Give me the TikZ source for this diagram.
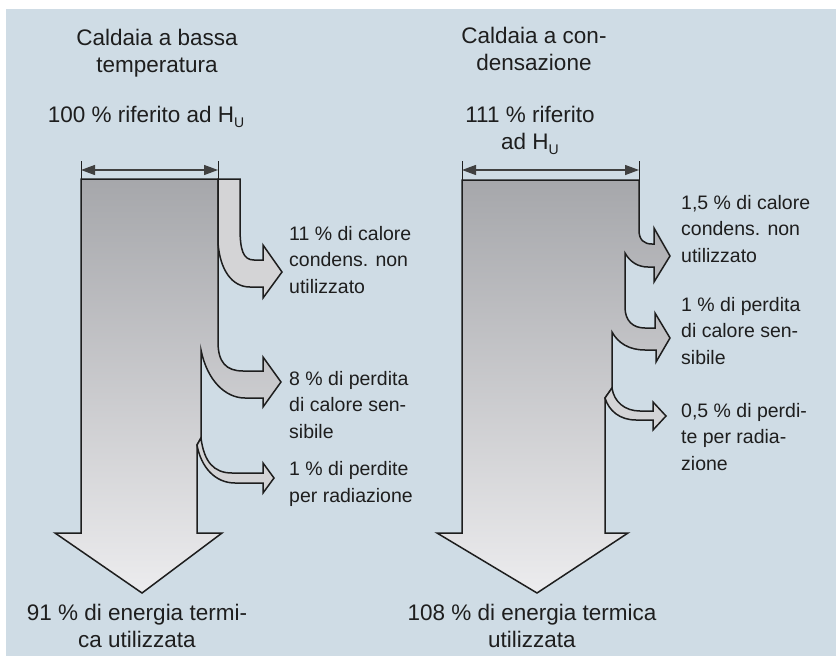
\documentclass[tikz,border=0pt]{standalone}
\usepackage{fontspec}
\setmainfont{Liberation Sans}
\usetikzlibrary{arrows.meta}
\definecolor{bgblue}{RGB}{207,220,229}
\definecolor{bartop}{RGB}{166,167,171}
\definecolor{barbot}{RGB}{236,236,238}
\definecolor{branchlight}{RGB}{212,212,214}
\definecolor{inkc}{RGB}{30,30,30}
\newcommand\hsub[1]{\raisebox{-5pt}{\fontsize{14}{14}\selectfont #1}}
\begin{document}
\begin{tikzpicture}[x=1pt,y=-1pt,
  outl/.style={draw=inkc, line width=1.5pt, line join=miter},
  mainbar/.style={outl, top color=bartop, bottom color=barbot},
  lightbr/.style={outl, fill=branchlight},
  dimline/.style={draw=inkc!85, line width=1.3pt, {Triangle[length=14pt,width=10pt]}-{Triangle[length=14pt,width=10pt]}},
  tickline/.style={draw=inkc, line width=1pt},
  lbl/.style={font=\fontsize{19.5}{26.5}\selectfont, text=inkc, inner sep=0pt, align=left},
  ctr/.style={font=\fontsize{22.5}{27}\selectfont, text=inkc, inner sep=0pt, align=center}]
\useasboundingbox (0,0) rectangle (836,656);
\fill[bgblue] (6,9) rectangle (836,656);
% ---------- left: low temperature boiler ----------
\path[mainbar] (81,179) -- (218,179) -- (218,342)
  .. controls (218,362) and (226,371) .. (243,371) -- (263,371) -- (263,357) -- (281,382) -- (263,407) -- (263,398) -- (245,398)
  .. controls (225,398) and (207,380) .. (201,350) -- (201,438) -- (197,445) -- (197,533) -- (222,533) -- (142,593) -- (55,533) -- (81,533) -- cycle;
\path[lightbr] (218,179) -- (240,179) -- (240,227) .. controls (240,250) and (243,260) .. (254,260) -- (263,260) -- (263,245) -- (282,272) -- (263,298) -- (263,287) -- (250,287) .. controls (232,287) and (220,270) .. (218,243) -- cycle;
\path[lightbr] (201,438) .. controls (204,462) and (214,473) .. (232,473) -- (263,473) -- (263,463) -- (274,478) -- (263,493) -- (263,483) -- (235,483) .. controls (215,483) and (201,467) .. (197,445) -- cycle;
\coordinate (aL) at (81,170);
\coordinate (bL) at (218,170);
\draw[tickline] (81,161) -- (81,179);
\draw[tickline] (218,161) -- (218,179);
\draw[dimline] (aL) -- (bL);
% ---------- right: condensing boiler ----------
\path[mainbar] (462,180) -- (639,180) -- (639,230) .. controls (639,240) and (644,244) .. (652,244) -- (654,244) -- (654,228) -- (670,256) -- (654,282) -- (654,267) -- (648,267)
  .. controls (638,267) and (630,262) .. (625,253) -- (625,307) .. controls (625,321) and (633,328) .. (645,328) -- (655,328) -- (655,313) -- (670,338) -- (656,362) -- (656,350) -- (645,350)
  .. controls (629,350) and (618,343) .. (612,332) -- (612,388) -- (605,398) -- (605,533) -- (628,533) -- (537,593) -- (437,533) -- (462,533) -- cycle;
\path[lightbr] (612,388) .. controls (614,402) and (625,411) .. (640,411) -- (653,411) -- (653,402) -- (666,416) -- (653,430) -- (653,420) -- (636,420) .. controls (620,420) and (609,411) .. (605,398) -- cycle;
\coordinate (aR) at (462,170);
\coordinate (bR) at (639,170);
\draw[tickline] (462,161) -- (462,180);
\draw[tickline] (639,161) -- (639,180);
\draw[dimline] (aR) -- (bR);
% ---------- texts (base = baseline of last line) ----------
\node[ctr, anchor=base] (tL) at (157,72) {Caldaia a bassa\\temperatura};
\node[ctr, anchor=base] (hL) at (146,122) {100 \% riferito ad H\hsub{U}};
\node[ctr, anchor=base] (tR) at (534,70) {Caldaia a con-\\densazione};
\node[ctr, anchor=base] (hR) at (530,149) {111 \% riferito\\ad H\hsub{U}};
\node[lbl, anchor=base west] (l1) at (289,293) {11 \% di calore\\condens. non\\utilizzato};
\node[lbl, anchor=base west] (l2) at (289,438) {8 \% di perdita\\di calore sen-\\sibile};
\node[lbl, anchor=base west] (l3) at (289,502) {1 \% di perdite\\per radiazione};
\node[lbl, anchor=base west] (r1) at (681,262) {1,5 \% di calore\\condens. non\\utilizzato};
\node[lbl, anchor=base west] (r2) at (681,364) {1 \% di perdita\\di calore sen-\\sibile};
\node[lbl, anchor=base west] (r3) at (681,470) {0,5 \% di perdi-\\te per radia-\\zione};
\node[ctr, anchor=base] (bL) at (137,647) {91 \% di energia termi-\\ca utilizzata};
\node[ctr, anchor=base] (bRt) at (532,647) {108 \% di energia termica\\utilizzata};
\end{tikzpicture}
\end{document}
